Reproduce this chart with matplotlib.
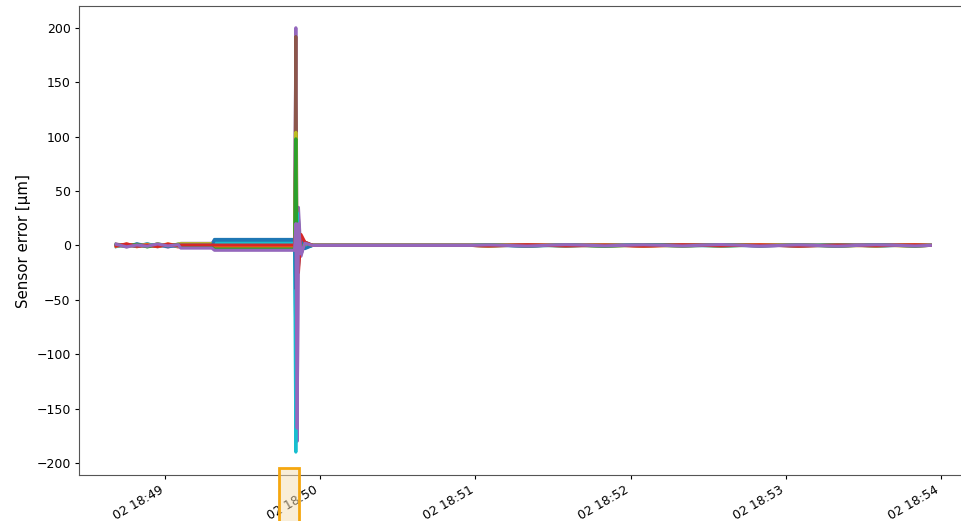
import datetime as dt
import matplotlib
matplotlib.use("Agg")
import matplotlib.pyplot as plt
import matplotlib.dates as mdates
from matplotlib.patches import Rectangle
from matplotlib.transforms import blended_transform_factory

# sample times, seconds after 2019-11-02 18:48:00
t_sec = [41, 45, 49, 53, 57, 61, 65,
         66, 78,
         79, 110,
         110.5, 111.0, 111.5, 112.5, 114, 117,
         178,
         185, 200, 215, 230, 245, 260, 275, 290, 305, 320, 335, 350, 356]

# sensor errors in um, one list per sensor
err_s1 = [0.5, -0.8, 1.2, -0.4, 0.9, -1.1, 0.3, 0.8, 0.8, 5.5, 5.5,
          -90, 20, -8, 4, -2, 0, 0,
          0.4, -0.6, 0.8, -0.3, 0.5, -0.7, 0.2, 0.6, -0.4, 0.7, -0.5, 0.3, 0]
err_s2 = [-0.6, 1.0, -1.3, 0.7, -0.5, 1.4, -0.2, -0.5, -0.5, 1.0, 1.0,
          40, -30, 12, -5, 2, 0, 0,
          -0.3, 0.5, -0.7, 0.4, -0.2, 0.6, -0.5, 0.3, 0.7, -0.4, 0.2, -0.6, 0]
err_s3 = [1.1, -0.4, 0.6, -1.2, 1.5, -0.3, 0.8, -1.8, -1.8, -2.8, -2.8,
          100, -60, 25, -8, 3, 0, 0,
          0.6, -0.2, 0.4, -0.8, 0.3, 0.5, -0.6, 0.2, -0.3, 0.8, -0.4, 0.5, 0]
err_s4 = [-1.0, 0.4, -0.7, 1.3, -0.9, 0.5, -1.4, -1.0, -1.0, -1.5, -1.5,
          10, -10, 8, -4, 2, 0, 0,
          -0.5, 0.3, -0.2, 0.6, -0.7, 0.2, 0.4, -0.3, 0.5, -0.6, 0.7, -0.2, 0]
err_s5 = [0.8, -1.5, 0.3, -0.6, 1.1, -0.8, 0.6, 1.9, 1.9, 4.2, 4.2,
          200, -180, 35, -10, 3, 0, 0,
          0.3, -0.5, 0.6, -0.2, 0.7, -0.4, 0.5, -0.6, 0.2, -0.3, 0.6, -0.5, 0]
err_s6 = [-0.3, 0.9, -1.0, 0.5, -1.3, 0.7, -0.5, -0.2, -0.2, -0.2, -0.2,
          192, -20, 15, -6, 2, 0, 0,
          -0.6, 0.4, -0.3, 0.7, -0.5, 0.3, -0.2, 0.6, -0.7, 0.4, -0.3, 0.5, 0]
err_s7 = [1.3, -0.2, 0.8, -0.9, 0.4, -1.6, 1.0, 0.2, 0.2, 2.0, 2.0,
          30, -40, 10, -4, 1, 0, 0,
          0.5, -0.4, 0.2, -0.6, 0.4, -0.3, 0.7, -0.5, 0.3, -0.2, 0.6, -0.4, 0]
err_s8 = [-0.4, 0.6, -1.1, 1.0, -0.3, 0.9, -0.7, 1.2, 1.2, 3.0, 3.0,
          -50, 20, -10, 4, 1, 0, 0,
          -0.2, 0.6, -0.5, 0.3, -0.4, 0.7, -0.3, 0.5, -0.6, 0.2, -0.5, 0.4, 0]
err_s9 = [0.2, -1.2, 0.5, -0.3, 1.2, -0.6, 1.3, 1.6, 1.6, -3.8, -3.8,
          104, -20, 8, -3, 1, 0, 0,
          0.7, -0.3, 0.5, -0.5, 0.2, -0.6, 0.4, -0.2, 0.6, -0.7, 0.3, -0.4, 0]
err_s10 = [-1.2, 0.7, -0.5, 1.5, -0.7, 0.3, -0.9, 0.5, 0.5, 2.5, 2.5,
           -190, 30, -12, 5, -2, 0, 0,
           -0.4, 0.2, -0.6, 0.5, -0.3, 0.4, -0.7, 0.6, -0.2, 0.5, -0.4, 0.2, 0]
err_s11 = [0.6, -0.9, 1.4, -0.2, 0.6, -1.3, 0.4, -0.8, -0.8, 4.8, 4.8,
           -40, 15, -20, 8, -3, 0, 0,
           0.3, -0.7, 0.4, -0.4, 0.6, -0.2, 0.3, -0.5, 0.4, -0.6, 0.5, -0.3, 0]
err_s12 = [-0.8, 1.2, -0.3, 0.8, -1.1, 1.0, -0.6, 0.0, 0.0, -0.8, -0.8,
           20, -15, 10, -6, 2, 0, 0,
           -0.5, 0.4, -0.3, 0.5, -0.6, 0.3, -0.4, 0.7, -0.3, 0.2, -0.5, 0.6, 0]
err_s13 = [0.9, -0.5, 1.0, -1.4, 0.3, -0.4, 1.1, -1.4, -1.4, -3.3, -3.3,
           98, -30, 15, -5, 2, 0, 0,
           0.4, -0.5, 0.3, -0.6, 0.5, -0.4, 0.6, -0.3, 0.2, -0.5, 0.4, -0.6, 0]
err_s14 = [-0.5, 1.4, -0.8, 0.2, -1.0, 1.2, -0.3, 0.4, 0.4, 0.3, 0.3,
           15, -8, -25, 10, 3, 0, 0,
           -0.3, 0.6, -0.4, 0.2, -0.5, 0.6, -0.3, 0.4, -0.6, 0.3, -0.2, 0.5, 0]
err_s15 = [1.0, -1.3, 0.4, -0.8, 1.3, -0.5, 0.7, -2.5, -2.5, -4.5, -4.5,
           20, -168, 20, -8, 2, 0, 0,
           0.5, -0.6, 0.7, -0.4, 0.6, -0.5, 0.8, -0.6, 0.5, -0.7, 0.6, -0.5, 0]

errors = [err_s1, err_s2, err_s3, err_s4, err_s5, err_s6, err_s7, err_s8,
          err_s9, err_s10, err_s11, err_s12, err_s13, err_s14, err_s15]

t0 = dt.datetime(2019, 11, 2, 18, 48, 0)
times = [t0 + dt.timedelta(seconds=s) for s in t_sec]

# highlighted window below the axis
win_start = t0 + dt.timedelta(seconds=104)
win_end = t0 + dt.timedelta(seconds=111.8)

fig = plt.figure(figsize=(9.61, 5.21), dpi=100)
ax = fig.add_axes([79 / 961, 46 / 521, 885 / 961, 469 / 521])

colors = plt.rcParams["axes.prop_cycle"].by_key()["color"]
for i, e in enumerate(errors):
    ax.plot(times, e, color=colors[i % len(colors)], lw=2.2)

ax.set_xlim(t0 + dt.timedelta(seconds=26.6), t0 + dt.timedelta(seconds=369))
ax.set_ylim(-211, 220)
ax.set_yticks([-200, -150, -100, -50, 0, 50, 100, 150, 200])
ax.xaxis.set_major_locator(mdates.MinuteLocator())
ax.xaxis.set_major_formatter(mdates.DateFormatter("%d %H:%M"))
for lbl in ax.get_xticklabels():
    lbl.set_rotation(30)
    lbl.set_ha("right")
ax.tick_params(labelsize=9, length=3, pad=3)
ax.set_ylabel("Sensor error [µm]", fontsize=10.8)
ax.yaxis.set_label_coords(-0.054, 0.5)
for sp in ax.spines.values():
    sp.set_color("#555555")

trans = blended_transform_factory(ax.transData, ax.transAxes)
x0 = mdates.date2num(win_start)
x1 = mdates.date2num(win_end)
ax.add_patch(Rectangle((x0, -0.15), x1 - x0, 0.165, transform=trans,
                       facecolor="#f5deb3", alpha=0.5, edgecolor="none",
                       clip_on=False, zorder=5))
ax.add_patch(Rectangle((x0, -0.15), x1 - x0, 0.165, transform=trans,
                       facecolor="none", edgecolor="#f5a70f", lw=2,
                       clip_on=False, zorder=6))

fig.savefig("out.png", dpi=100)
